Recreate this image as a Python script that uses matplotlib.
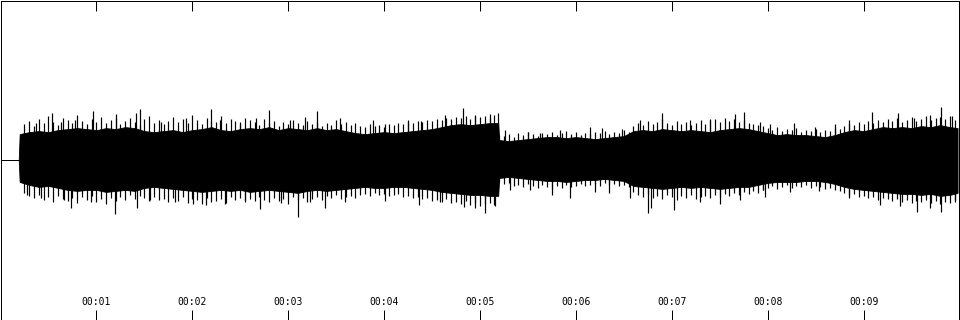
import matplotlib
matplotlib.use("Agg")
import matplotlib.pyplot as plt

# ---- data (amplitudes in pixel units of a 320 px tall panel, centre = 0) ----
body_t = [0.0, 0.19, 0.2, 0.3, 0.4, 0.5, 0.6, 0.7, 0.8, 0.9, 1.0, 1.1, 1.2, 1.3, 1.4, 1.5,
          1.6, 1.7, 1.8, 1.9, 2.0, 2.1, 2.2, 2.3, 2.4, 2.5, 2.6, 2.7, 2.8, 2.9, 3.0,
          3.1, 3.2, 3.3, 3.4, 3.5, 3.6, 3.7, 3.8, 3.9, 4.0, 4.1, 4.2, 4.3, 4.4, 4.5,
          4.6, 4.7, 4.8, 4.9, 5.0, 5.1, 5.19, 5.2, 5.3, 5.4, 5.5, 5.6, 5.7, 5.8, 5.9,
          6.0, 6.1, 6.2, 6.3, 6.4, 6.5, 6.6, 6.7, 6.8, 6.9, 7.0, 7.1, 7.2, 7.3, 7.4,
          7.5, 7.6, 7.7, 7.8, 7.9, 8.0, 8.1, 8.2, 8.3, 8.4, 8.5, 8.6, 8.7, 8.8, 8.9,
          9.0, 9.1, 9.2, 9.3, 9.4, 9.5, 9.6, 9.7, 9.8, 9.9, 9.98]
body_top = [0, 0, 26, 28, 29, 28, 30, 31, 32, 31, 30, 32, 31, 33, 32, 29,
            28, 29, 30, 28, 30, 31, 33, 30, 29, 31, 32, 31, 33, 30, 32,
            31, 30, 32, 30, 31, 29, 27, 26, 27, 28, 27, 28, 29, 30, 31,
            33, 35, 36, 35, 36, 37, 37, 20, 19, 20, 21, 22, 23, 23, 22,
            23, 22, 21, 22, 23, 24, 29, 30, 29, 31, 30, 29, 30, 29, 28,
            30, 31, 32, 31, 29, 27, 25, 26, 25, 25, 24, 23, 25, 28, 30,
            29, 31, 33, 32, 33, 32, 34, 33, 35, 33, 32]
body_bot = [0, 0, 22, 25, 27, 26, 28, 30, 31, 30, 30, 32, 31, 30, 31, 28,
            27, 28, 29, 30, 31, 32, 31, 30, 31, 30, 32, 31, 30, 31, 32,
            33, 31, 30, 31, 30, 29, 28, 27, 28, 28, 27, 27, 28, 29, 30,
            32, 33, 34, 35, 35, 36, 36, 18, 17, 18, 19, 20, 21, 21, 22,
            21, 20, 20, 19, 20, 21, 26, 27, 28, 29, 28, 27, 28, 27, 28,
            29, 28, 27, 27, 25, 23, 22, 22, 22, 21, 21, 22, 24, 27, 29,
            30, 31, 32, 33, 34, 34, 35, 34, 36, 35, 33]

# medium-height peaks read every 0.05 s from 0.25 s to 9.95 s
tex_t0, tex_dt = 0.25, 0.05
tex_top = [36, 39, 34, 41, 37, 44, 38, 35, 42, 40,
           37, 45, 39, 36, 41, 38, 43, 37, 40, 46,
           36, 39, 42, 38, 35, 41, 44, 37, 40, 36,
           39, 43, 38, 41, 37, 45, 40, 36, 42, 39,
           38, 44, 37, 41, 39, 36, 42, 40, 38, 35,
           41, 37, 39, 34, 38, 36, 40, 37, 35, 39,
           36, 38, 34, 37, 35, 40, 36, 38, 35, 37,
           34, 33, 36, 34, 35, 33, 36, 35, 37, 36,
           38, 37, 39, 38, 40, 39, 41, 40, 42, 41,
           43, 42, 44, 41, 45, 43, 44, 42, 45,
           25, 24, 26, 23, 27, 25, 28, 26, 24, 27,
           26, 28, 25, 27, 29, 26, 28, 25, 27, 26,
           28, 27, 29, 26, 28, 27, 30, 28,
           34, 37, 35, 39, 36, 38, 41, 37, 35, 39,
           36, 38, 35, 37, 40, 36, 39, 41, 38, 42,
           39, 41, 38, 40, 37, 36, 35, 34,
           32, 30, 33, 29, 31, 30, 32, 28, 30, 29, 31, 28, 30, 29, 32, 31,
           34, 36, 35, 38, 36, 39, 37, 40, 38, 41,
           39, 42, 38, 40, 43, 39, 41, 44, 40, 42,
           43, 41, 44, 40]
tex_bot = [33, 36, 38, 35, 40, 37, 42, 36, 39, 41,
           38, 43, 37, 40, 36, 42, 39, 44, 38, 41,
           37, 40, 35, 39, 36, 38, 41, 37, 40, 39,
           42, 38, 41, 37, 43, 39, 40, 44, 38, 42,
           41, 39, 43, 37, 40, 38, 42, 39, 41, 37,
           40, 42, 38, 41, 39, 44, 37, 40, 38, 42,
           39, 37, 40, 36, 38, 35, 39, 37, 36, 38,
           35, 34, 36, 33, 35, 34, 36, 35, 34, 37,
           36, 38, 37, 39, 38, 41, 40, 42, 39, 43,
           42, 44, 41, 45, 43, 46, 44, 43, 45,
           22, 24, 23, 26, 25, 27, 24, 26, 28, 25,
           27, 29, 26, 28, 25, 27, 26, 24, 26, 25,
           24, 26, 23, 25, 24, 26, 25, 27,
           32, 35, 37, 34, 38, 36, 39, 35, 37, 40,
           36, 38, 35, 39, 37, 36, 38, 35, 37, 34,
           36, 33, 35, 32, 34, 31, 33, 30,
           28, 26, 29, 27, 25, 28, 26, 27, 25, 28, 26, 27, 29, 28, 30, 31,
           33, 35, 34, 37, 36, 38, 37, 40, 38, 39,
           41, 39, 42, 40, 43, 41, 42, 40, 43, 41,
           44, 42, 43, 40]

spike_top_t = [0.375, 0.54, 0.63, 0.78, 0.96, 1.2, 1.41, 1.45, 1.67, 1.93,
               2.2, 2.29, 2.5, 2.66, 2.8, 3.02, 3.18, 3.3, 3.54, 3.88, 4.01,
               4.25, 4.38, 4.64, 4.82, 4.95, 5.1, 5.19, 5.26, 5.5, 5.63, 5.83, 6.15,
               6.27, 6.48, 6.67, 6.9, 7.19, 7.4, 7.66, 7.75, 7.92, 8.02,
               8.27, 8.49, 8.7, 8.85, 9.09, 9.36, 9.53, 9.69, 9.81, 9.92]
spike_top_v = [37, 47, 38, 40, 49, 42, 47, 51, 38, 42,
               51, 40, 38, 42, 50, 40, 43, 49, 42, 40, 36,
               40, 39, 45, 52, 44, 46, 47, 30, 28, 27, 30, 33,
               32, 31, 40, 47, 40, 41, 46, 48, 38, 36,
               37, 33, 36, 40, 48, 47, 42, 45, 53, 44]
spike_bot_t = [0.28, 0.42, 0.66, 0.74, 0.94, 1.19, 1.42, 1.56, 1.82, 2.01,
               2.14, 2.34, 2.55, 2.71, 2.92, 3.1, 3.23, 3.38, 3.59, 4.01,
               4.36, 4.58, 4.83, 4.95, 5.05, 5.16, 5.31, 5.52, 5.75, 5.94, 6.2,
               6.35, 6.56, 6.75, 6.78, 7.02, 7.29, 7.5, 7.71, 7.95, 7.97,
               8.23, 8.54, 8.85, 9.17, 9.38, 9.56, 9.69, 9.81, 9.95]
spike_bot_v = [35, 38, 40, 48, 42, 54, 48, 40, 42, 44,
               45, 44, 40, 49, 43, 57, 42, 48, 42, 41,
               45, 42, 47, 48, 53, 46, 30, 30, 35, 38, 32,
               33, 38, 53, 48, 50, 42, 44, 40, 30, 37,
               32, 31, 38, 45, 46, 52, 48, 52, 42]

tick_pos = [1, 2, 3, 4, 5, 6, 7, 8, 9]
tick_labels = ["00:01", "00:02", "00:03", "00:04", "00:05",
               "00:06", "00:07", "00:08", "00:09"]

# ---- figure ----
W, H, DPI = 960, 320, 100
fig = plt.figure(figsize=(W / DPI, H / DPI), dpi=DPI)
ax = fig.add_axes([0.5 / W, 0.5 / H, (W - 1) / W, (H - 1) / H])
ax.set_xlim(0, 10)
ax.set_ylim(-160, 160)

px = 72.0 / DPI
ax.fill_between(body_t, [-v for v in body_bot], body_top, color="black",
                linewidth=0.6, edgecolor="black")
ax.plot(body_t[:2], [0, 0], color="black", linewidth=px)
tex_t = [tex_t0 + i * tex_dt for i in range(len(tex_top))]
ax.vlines(tex_t, [-v for v in tex_bot], tex_top, color="black", linewidth=1.2 * px)
ax.vlines(spike_top_t, 0, spike_top_v, color="black", linewidth=1.2 * px)
ax.vlines(spike_bot_t, [-v for v in spike_bot_v], 0, color="black", linewidth=1.2 * px)

ax.set_yticks([])
ax.set_xticks(tick_pos)
ax.set_xticklabels([])
ax.tick_params(axis="x", direction="in", length=10 * px, width=px,
               top=True, bottom=True, color="black")
for p, lab in zip(tick_pos, tick_labels):
    ax.text(p, -142, lab, ha="center", va="center", fontsize=7,
            family="DejaVu Sans Mono", color="black")

for s in ax.spines.values():
    s.set_linewidth(px)
    s.set_color("black")

fig.savefig("out.png", dpi=DPI, facecolor="white")
